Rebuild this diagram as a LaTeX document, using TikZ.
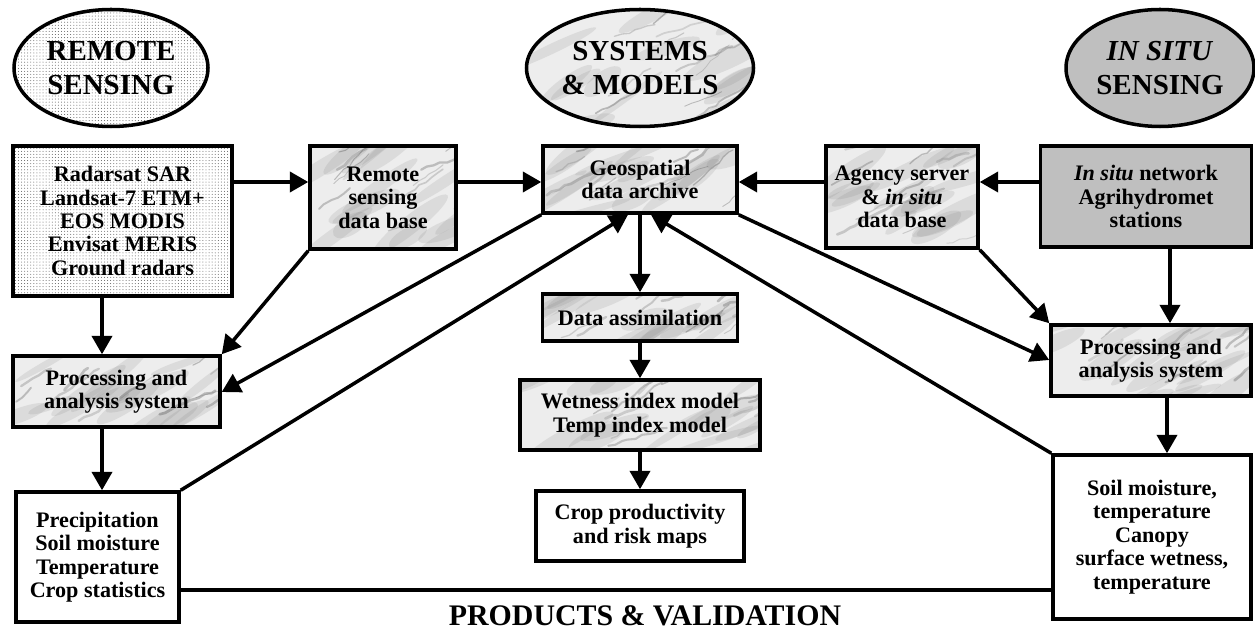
\documentclass[tikz,border=0pt]{standalone}
\usepackage{fontspec}
\setmainfont{Liberation Serif}
\usetikzlibrary{shapes.geometric,arrows.meta,calc,patterns,decorations.pathmorphing}

% fine dot screen used for the remote sensing items
\pgfdeclarepatternformonly{finedots}{\pgfqpoint{-0.5pt}{-0.5pt}}{\pgfqpoint{0.5pt}{0.5pt}}{\pgfqpoint{1.75pt}{1.75pt}}{\pgfpathcircle{\pgfqpoint{0pt}{0pt}}{0.28pt}\pgfusepath{fill}}

% grey clouds and veins that give a marble look inside a shape
\newcommand\marbleveins{%
  \foreach \k in {1,...,16}{%
    \pgfmathsetmacro\fx{rnd}\pgfmathsetmacro\fy{rnd}%
    \pgfmathsetmacro\ra{18+35*rnd}\pgfmathsetmacro\rb{3+7*rnd}%
    \pgfmathsetmacro\rr{15+25*rnd}%
    \fill[black!50, opacity=0.16]
      let \p1=(path picture bounding box.south west), \p2=(path picture bounding box.north east) in
      ({\x1+\fx*(\x2-\x1)}, {\y1+\fy*(\y2-\y1)}) ellipse [x radius=\ra, y radius=\rb, rotate=\rr];
  }%
  \foreach \k in {1,...,12}{%
    \pgfmathsetmacro\fx{rnd}\pgfmathsetmacro\fy{rnd}%
    \pgfmathsetmacro\sl{20+45*rnd}\pgfmathsetmacro\sa{15+30*rnd}%
    \pgfmathsetmacro\sg{40+35*rnd}\pgfmathsetmacro\sw{0.4+1.2*rnd}%
    \draw[black!\sg, opacity=0.32, line width=\sw pt, line cap=round, decorate,
          decoration={random steps, segment length=4pt, amplitude=0.8pt}]
      let \p1=(path picture bounding box.south west), \p2=(path picture bounding box.north east) in
      ({\x1+\fx*(\x2-\x1)}, {\y1+\fy*(\y2-\y1)}) -- ++(-\sa:\sl);
  }%
}

\begin{document}
\begin{tikzpicture}[x=0.02cm, y=-0.02cm,
  sz/.style 2 args={minimum width=#1*0.02cm, minimum height=#2*0.02cm},
  base/.style={draw=black, line width=2pt, inner sep=0pt, align=center,
               font=\bfseries\fontsize{12.6}{13.3}\selectfont},
  box/.style={base, rectangle},
  oval/.style={base, ellipse, font=\bfseries\fontsize{16.5}{19.5}\selectfont},
  marble/.style={fill=black!7, path picture={\marbleveins}},
  dotted screen/.style={pattern=finedots, pattern color=black!65},
  plain/.style={fill=white},
  greyed/.style={fill=black!25},
  arr/.style={line width=2pt, -{Triangle[length=10.5pt,width=11.5pt]}},
  link/.style={line width=2pt}
]
\pgfmathsetseed{4217}
\useasboundingbox (0,0) rectangle (1255,631);

% --- three headings
\node[oval, dotted screen, sz={194}{117}] (rs) at (111,68) {REMOTE\\SENSING};
\node[oval, marble, sz={227}{117}] (sm) at (640,68) {SYSTEMS\\\& MODELS};
\node[oval, greyed, sz={188}{117}] (is) at (1160,68) {\textit{IN SITU}\\SENSING};

% --- top row
\node[box, dotted screen, sz={219}{150}] (rad) at (122.5,221)
  {Radarsat SAR\\Landsat-7 ETM+\\EOS MODIS\\Envisat MERIS\\Ground radars};
\node[box, marble, sz={146}{103}] (rsdb) at (383,197.5) {Remote\\sensing\\data base};
\node[box, marble, sz={194}{67}] (geo) at (640,179.5) {Geospatial\\data archive};
\node[box, marble, sz={152}{102}] (agency) at (902,197) {Agency server\\\& \textit{in situ}\\data base};
\node[box, greyed, sz={211}{101}] (isn) at (1146,196.5) {\textit{In situ} network\\Agrihydromet\\stations};

% --- processing
\node[box, marble, sz={207}{71}] (ppl) at (116.5,391.5) {Processing and\\analysis system};
\node[box, marble, sz={195}{47}] (da) at (640,317.5) {Data assimilation};
\node[box, marble, sz={240}{70}] (wet) at (640,415) {Wetness index model\\Temp index model};
\node[box, marble, sz={200}{71}] (ppr) at (1151,360.5) {Processing and\\analysis system};

% --- products
\node[box, plain, sz={163}{130}] (prec) at (97.5,557)
  {Precipitation\\Soil moisture\\Temperature\\Crop statistics};
\node[box, plain, sz={208}{70}] (crop) at (640,526) {Crop productivity\\and risk maps};
\node[box, plain, sz={198}{164}] (soil) at (1152,537)
  {Soil moisture,\\temperature\\Canopy\\surface wetness,\\temperature};

\node[font=\bfseries\fontsize{17}{19}\selectfont] (pv) at (645,616) {PRODUCTS \& VALIDATION};

% --- horizontal flow into the archive
\draw[arr] (rad.east |- 0,182) -- (rsdb.west |- 0,182);
\draw[arr] (rsdb.east |- 0,182) -- (geo.west |- 0,182);
\draw[arr] (agency.west |- 0,182) -- (geo.east |- 0,182);
\draw[arr] (isn.west |- 0,182) -- (agency.east |- 0,182);

% --- remote sensing chain
\draw[arr] (rad.south -| 102,0) -- (ppl.north -| 102,0);
\draw[arr] (rsdb.south west) -- (ppl.north east);
\draw[arr] (geo.south west) -- (ppl.east |- 0,392);
\draw[arr] (ppl.south -| 102,0) -- (prec.north -| 102,0);
\draw[arr] (prec.north east) -- (geo.south -| 628,0);

% --- models chain
\draw[arr] (geo.south) -- (da.north);
\draw[arr] (da.south) -- (wet.north);
\draw[arr] (wet.south) -- (crop.north);

% --- in situ chain
\draw[arr] (geo.south east) -- (ppr.west |- 0,360);
\draw[arr] (agency.south east) -- (ppr.north west);
\draw[arr] (isn.south -| 1170,0) -- (ppr.north -| 1170,0);
\draw[arr] (ppr.south -| 1167,0) -- (soil.north -| 1167,0);
\draw[arr] (soil.north west) -- (geo.south -| 651,0);

% --- products bus
\draw[link] (prec.east |- 0,590) -- (soil.west |- 0,590);
\draw[link] (crop.south -| 636,0) -- (crop.south -| 636,590);
\end{tikzpicture}
\end{document}
